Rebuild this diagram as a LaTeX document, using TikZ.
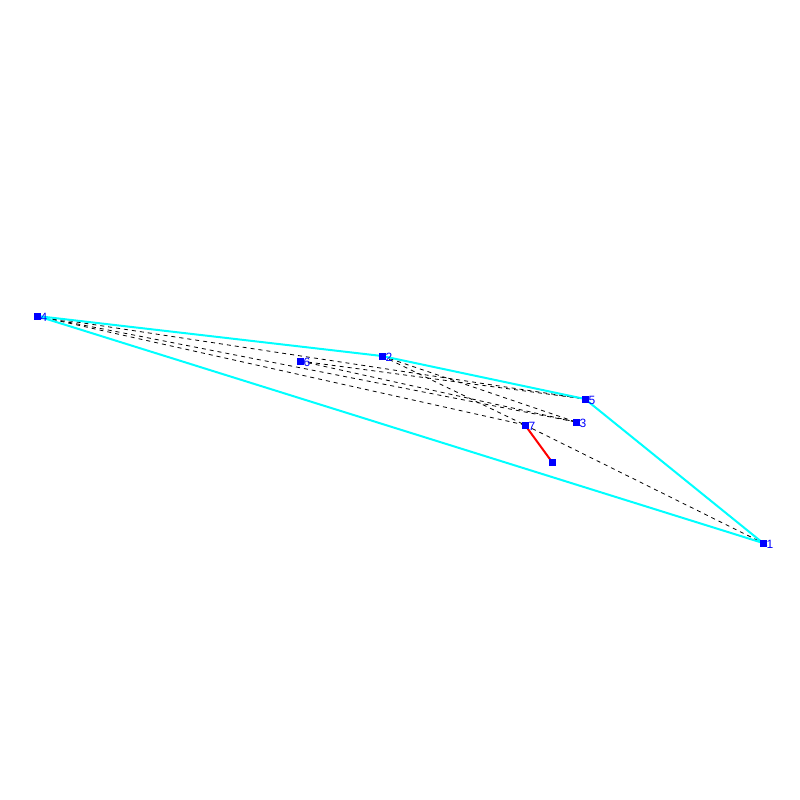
\documentclass[tikz,border=0pt]{standalone}
\usepackage{fontspec}
\setmainfont{Liberation Sans}
\begin{document}
\begin{tikzpicture}[x=1pt,y=-1pt,
  pt/.style={fill={rgb,255:red,0;green,0;blue,255}, draw=none, minimum size=7pt, inner sep=0pt, rectangle},
  lbl/.style={text={rgb,255:red,0;green,0;blue,255}, font=\fontsize{12}{12}\selectfont, anchor=west, inner sep=0pt},
  hull/.style={draw={rgb,255:red,0;green,255;blue,255}, line width=2pt},
  test/.style={draw=black, line width=0.8pt, dash pattern=on 4pt off 4pt},
  pick/.style={draw=red, line width=2pt}]
\useasboundingbox (0,0) rectangle (800,800);
\coordinate (c1) at (763,543);
\coordinate (c2) at (382,356);
\coordinate (c3) at (576,422);
\coordinate (c4) at (37,316);
\coordinate (c5) at (585,399);
\coordinate (c6) at (300,361);
\coordinate (c7) at (525,425);
\coordinate (c8) at (552,462);
% dashed tests
\draw[test] (c4) -- (c5);
\draw[test] (c4) -- (c3);
\draw[test] (c4) -- (c7);
\draw[test] (c6) -- (c5);
\draw[test] (c6) -- (c3);
\draw[test] (c2) -- (c3);
\draw[test] (c2) -- (c7);
\draw[test] (c7) -- (c1);
% hull
\draw[hull] (c4) -- (c2) -- (c5) -- (c1) -- cycle;
\draw[pick] (c7) -- (c8);
% points
\foreach \i in {1,...,8} {\node[pt] (p\i) at (c\i) {};}
\foreach \i in {1,...,7} {\node[lbl] (l\i) at ([xshift=3.5pt,yshift=-1pt]c\i) {\i};}
\end{tikzpicture}
\end{document}
